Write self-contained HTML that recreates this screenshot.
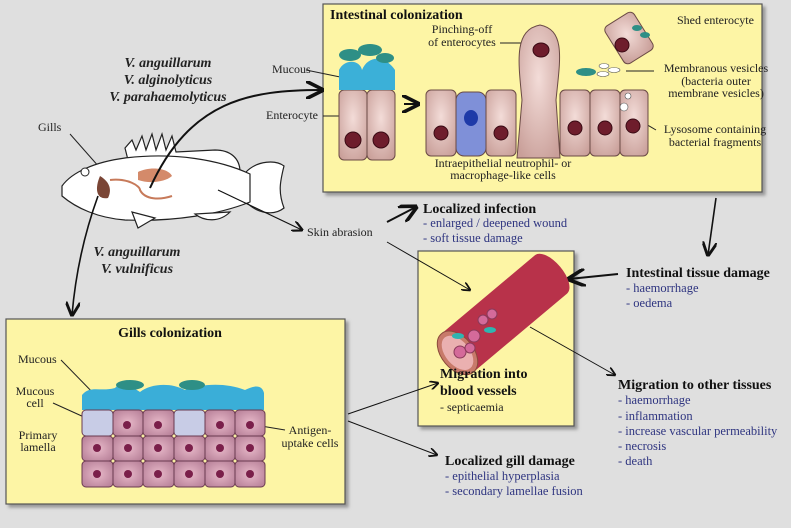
<!DOCTYPE html>
<html><head><meta charset="utf-8"><style>
html,body{margin:0;padding:0;background:#dfdfdf;}
svg{display:block;font-family:"Liberation Serif",serif;}
.t{font-weight:bold;font-size:14px;fill:#111}
.b{font-size:12.5px;fill:#2f3580}
.l{font-size:12px;fill:#222}
.sp{font-weight:bold;font-style:italic;font-size:14px;fill:#222}
</style></head><body>
<svg width="791" height="528" viewBox="0 0 791 528" xmlns="http://www.w3.org/2000/svg">
<defs>
<marker id="ah" viewBox="0 0 10 10" refX="9" refY="5" markerWidth="9" markerHeight="9" orient="auto"><path d="M0,0 L10,5 L0,10" fill="none" stroke="#111" stroke-width="2"/></marker>
<filter id="sh"><feDropShadow dx="3" dy="3" stdDeviation="1.5" flood-color="#777" flood-opacity="0.7"/></filter>
<radialGradient id="cell" cx="50%" cy="40%" r="70%"><stop offset="0" stop-color="#f3dcd8"/><stop offset="1" stop-color="#c99f99"/></radialGradient>
<radialGradient id="gc" cx="50%" cy="50%" r="70%"><stop offset="0" stop-color="#e8b9c9"/><stop offset="1" stop-color="#b27a93"/></radialGradient>
</defs>
<rect width="791" height="528" fill="#dfdfdf"/>

<!-- Boxes first -->
<rect x="323" y="4" width="439" height="188" fill="#fdf5a5" stroke="#555" stroke-width="1.2" filter="url(#sh)"/>
<rect x="418" y="251" width="156" height="175" fill="#fdf5a5" stroke="#555" stroke-width="1.2" filter="url(#sh)"/>
<rect x="6" y="319" width="339" height="185" fill="#fdf5a5" stroke="#555" stroke-width="1.2" filter="url(#sh)"/>

<!-- Intestinal -->
<text x="330" y="19" class="t">Intestinal colonization</text>
<text x="677" y="24" class="l" font-size="12.5">Shed enterocyte</text>
<text x="462" y="33" class="l" text-anchor="middle" font-size="12.5">Pinching-off</text>
<text x="462" y="46" class="l" text-anchor="middle" font-size="12.5">of enterocytes</text>
<line x1="500" y1="43" x2="522" y2="43" stroke="#222"/>
<text x="272" y="73" class="l">Mucous</text>
<line x1="306" y1="70" x2="345" y2="78" stroke="#222"/>
<text x="266" y="119" class="l">Enterocyte</text>
<line x1="323" y1="116" x2="340" y2="116" stroke="#222"/>
<text x="716" y="72" class="l" text-anchor="middle" font-size="12.5">Membranous vesicles</text>
<text x="716" y="85" class="l" text-anchor="middle" font-size="12.5">(bacteria outer</text>
<text x="716" y="97" class="l" text-anchor="middle" font-size="12.5">membrane vesicles)</text>
<line x1="626" y1="71" x2="654" y2="71" stroke="#222"/>
<text x="715" y="133" class="l" text-anchor="middle" font-size="12.5">Lysosome containing</text>
<text x="715" y="146" class="l" text-anchor="middle" font-size="12.5">bacterial fragments</text>
<line x1="622" y1="110" x2="656" y2="130" stroke="#222"/>
<text x="503" y="167" class="l" text-anchor="middle" font-size="12.5">Intraepithelial neutrophil- or</text>
<text x="503" y="179" class="l" text-anchor="middle" font-size="12.5">macrophage-like cells</text>
<line x1="471" y1="143" x2="471" y2="155" stroke="#222"/>

<g stroke="#6a4a45" stroke-width="1">
<rect x="339" y="90" width="28" height="70" rx="5" fill="url(#cell)"/>
<rect x="367" y="90" width="28" height="70" rx="5" fill="url(#cell)"/>
<rect x="426" y="90" width="30" height="66" rx="5" fill="url(#cell)"/>
<rect x="456" y="92" width="30" height="64" rx="8" fill="#7f90d8"/>
<rect x="486" y="90" width="30" height="66" rx="5" fill="url(#cell)"/>
<path d="M517,158 L522,100 C518,60 514,30 540,25 C566,30 560,60 556,100 L560,158 Z" fill="url(#cell)"/>
<rect x="560" y="90" width="30" height="66" rx="5" fill="url(#cell)"/>
<rect x="590" y="90" width="30" height="66" rx="5" fill="url(#cell)"/>
<rect x="620" y="90" width="28" height="66" rx="5" fill="url(#cell)"/>
<rect x="612" y="16" width="34" height="44" rx="5" fill="url(#cell)" transform="rotate(-32 629 38)"/>
</g>
<g fill="#6e1d2c" stroke="#3a0a14">
<ellipse cx="353" cy="140" rx="8" ry="8"/><ellipse cx="381" cy="140" rx="8" ry="8"/>
<ellipse cx="441" cy="133" rx="7" ry="7"/><ellipse cx="501" cy="133" rx="7" ry="7"/>
<ellipse cx="541" cy="50" rx="8" ry="7"/><ellipse cx="575" cy="128" rx="7" ry="7"/>
<ellipse cx="605" cy="128" rx="7" ry="7"/><ellipse cx="633" cy="126" rx="7" ry="7"/>
<ellipse cx="622" cy="45" rx="7" ry="7"/>
</g>
<ellipse cx="471" cy="118" rx="7" ry="8" fill="#1e3aa8"/>
<path d="M339,90 L339,70 C345,58 360,60 362,70 C368,55 385,55 395,70 L395,90 Z" fill="#3bb0d8"/>
<g fill="#2e8f86"><ellipse cx="350" cy="55" rx="11" ry="6"/><ellipse cx="370" cy="50" rx="12" ry="6"/><ellipse cx="385" cy="58" rx="9" ry="5"/><ellipse cx="586" cy="72" rx="10" ry="4"/></g>
<g fill="#2e8f86"><ellipse cx="637" cy="28" rx="5" ry="3"/><ellipse cx="645" cy="35" rx="5" ry="3"/></g>
<g fill="#fff" stroke="#555" stroke-width=".6"><ellipse cx="604" cy="66" rx="5" ry="2.5"/><ellipse cx="614" cy="70" rx="6" ry="2.5"/><ellipse cx="603" cy="74" rx="6" ry="2.5"/><circle cx="628" cy="96" r="3"/><circle cx="624" cy="107" r="4"/></g>
<line x1="404" y1="104" x2="418" y2="104" stroke="#111" stroke-width="2" marker-end="url(#ah)"/>

<!-- species -->
<text x="168" y="67" class="sp" text-anchor="middle">V. anguillarum</text>
<text x="168" y="84" class="sp" text-anchor="middle">V. alginolyticus</text>
<text x="168" y="101" class="sp" text-anchor="middle">V. parahaemolyticus</text>
<text x="137" y="256" class="sp" text-anchor="middle">V. anguillarum</text>
<text x="137" y="273" class="sp" text-anchor="middle">V. vulnificus</text>
<text x="38" y="131" class="l" font-size="13">Gills</text>
<line x1="70" y1="134" x2="100" y2="168" stroke="#222"/>

<!-- fish -->
<g stroke="#222" stroke-width="1.2" fill="#fff">
<path d="M128,160 L125,148 L132,140 L136,150 L142,136 L146,150 L152,134 L156,150 L162,134 L166,150 L172,136 L176,152 L215,150 C230,150 240,158 240,172 Z"/>
<path d="M246,172 C258,160 276,160 284,166 C280,182 278,192 284,208 C274,216 258,214 246,202 Z"/>
<path d="M62,186 C72,172 95,162 125,158 C175,152 220,160 250,174 L250,202 C220,214 175,222 125,220 C98,218 76,208 62,196 Z"/>
<path d="M132,212 L138,228 L155,218 Z"/>
<path d="M195,214 C205,222 220,222 230,212 Z"/>
</g>
<circle cx="85" cy="172" r="4" fill="#fff" stroke="#222"/>
<path d="M100,176 C94,190 97,200 108,198 C112,190 110,182 100,176 Z" fill="#7a4535"/>
<path d="M138,172 C150,166 168,168 172,176 C165,182 150,184 138,180 Z" fill="#d48a6a"/>
<path d="M110,180 C128,178 140,186 140,190 C145,200 160,200 172,196" fill="none" stroke="#c77a5a" stroke-width="2"/>

<!-- connectors -->
<path d="M150,188 C190,100 250,90 322,90" fill="none" stroke="#111" stroke-width="2" marker-end="url(#ah)"/>
<path d="M98,196 C82,240 75,280 72,315" fill="none" stroke="#111" stroke-width="1.6" marker-end="url(#ah)"/>
<path d="M218,190 L302,230" fill="none" stroke="#111" stroke-width="1.2" marker-end="url(#ah)"/>
<text x="307" y="236" class="l" font-size="14">Skin abrasion</text>
<path d="M387,222 L416,207" fill="none" stroke="#111" stroke-width="2" marker-end="url(#ah)"/>
<path d="M387,242 L470,290" fill="none" stroke="#111" stroke-width="1" marker-end="url(#ah)"/>
<path d="M716,198 L708,255" fill="none" stroke="#111" stroke-width="1.6" marker-end="url(#ah)"/>
<path d="M618,274 L569,279" fill="none" stroke="#111" stroke-width="2" marker-end="url(#ah)"/>
<path d="M530,327 L615,375" fill="none" stroke="#111" stroke-width="1" marker-end="url(#ah)"/>
<path d="M348,414 L438,383" fill="none" stroke="#111" stroke-width="1" marker-end="url(#ah)"/>
<path d="M348,421 L437,455" fill="none" stroke="#111" stroke-width="1" marker-end="url(#ah)"/>

<text x="423" y="213" class="t">Localized infection</text>
<text x="423" y="227" class="b">- enlarged / deepened wound</text>
<text x="423" y="242" class="b">- soft tissue damage</text>
<text x="626" y="277" class="t">Intestinal tissue damage</text>
<text x="626" y="292" class="b">- haemorrhage</text>
<text x="626" y="307" class="b">- oedema</text>
<text x="618" y="389" class="t">Migration to other tissues</text>
<text x="618" y="404" class="b">- haemorrhage</text>
<text x="618" y="420" class="b">- inflammation</text>
<text x="618" y="435" class="b">- increase vascular permeability</text>
<text x="618" y="450" class="b">- necrosis</text>
<text x="618" y="465" class="b">- death</text>
<text x="445" y="465" class="t">Localized gill damage</text>
<text x="445" y="480" class="b">- epithelial hyperplasia</text>
<text x="445" y="495" class="b">- secondary lamellae fusion</text>

<!-- blood vessel -->
<g transform="translate(505,313) rotate(-40)">
<path d="M-62,-25 L60,-25 A12,25 0 0 1 60,25 L-62,25 Z" fill="#b8324a"/>
<ellipse cx="-62" cy="0" rx="16" ry="25" fill="#c87a6a" stroke="#8a4a3a"/>
<ellipse cx="-62" cy="0" rx="12" ry="20" fill="#eab0b0"/>
</g>
<g fill="#d46a9a" stroke="#8a3a5a"><circle cx="460" cy="352" r="6"/><circle cx="474" cy="336" r="6"/><circle cx="483" cy="320" r="5"/><circle cx="470" cy="348" r="5"/><circle cx="492" cy="314" r="5"/></g>
<ellipse cx="458" cy="336" rx="6" ry="3" fill="#2fb5b0"/><ellipse cx="490" cy="330" rx="6" ry="3" fill="#2fb5b0"/>
<text x="440" y="378" class="t">Migration into</text>
<text x="440" y="395" class="t">blood vessels</text>
<text x="440" y="411" class="l" font-size="12.5">- septicaemia</text>

<!-- gills -->
<text x="170" y="337" class="t" text-anchor="middle">Gills colonization</text>
<text x="18" y="363" class="l">Mucous</text>
<line x1="61" y1="360" x2="100" y2="400" stroke="#222"/>
<text x="35" y="395" class="l" text-anchor="middle">Mucous</text>
<text x="35" y="407" class="l" text-anchor="middle">cell</text>
<line x1="53" y1="403" x2="95" y2="422" stroke="#222"/>
<text x="38" y="439" class="l" text-anchor="middle">Primary</text>
<text x="38" y="451" class="l" text-anchor="middle">lamella</text>
<text x="310" y="434" class="l" text-anchor="middle">Antigen-</text>
<text x="310" y="447" class="l" text-anchor="middle">uptake cells</text>
<line x1="255" y1="425" x2="285" y2="430" stroke="#222"/>
<path d="M82,410 L82,395 C90,385 100,392 115,388 C120,382 130,385 140,392 C150,384 170,382 185,390 C200,384 225,382 245,390 C255,385 262,385 264,393 L264,410 Z" fill="#3aaed8"/>
<g fill="#2e8f86"><ellipse cx="130" cy="385" rx="14" ry="5"/><ellipse cx="192" cy="385" rx="13" ry="5"/></g>
<g stroke="#6a3a50" stroke-width="1">
<g fill="#c8cce6"><rect x="82" y="410" width="31" height="26" rx="4"/><rect x="174" y="410" width="31" height="26" rx="4"/></g>
<g fill="url(#gc)">
<rect x="113" y="410" width="30" height="26" rx="4"/><rect x="143" y="410" width="31" height="26" rx="4"/><rect x="205" y="410" width="30" height="26" rx="4"/><rect x="235" y="410" width="30" height="26" rx="4"/>
<rect x="82" y="436" width="31" height="25" rx="4"/><rect x="113" y="436" width="30" height="25" rx="4"/><rect x="143" y="436" width="31" height="25" rx="4"/><rect x="174" y="436" width="31" height="25" rx="4"/><rect x="205" y="436" width="30" height="25" rx="4"/><rect x="235" y="436" width="30" height="25" rx="4"/>
<rect x="82" y="461" width="31" height="26" rx="4"/><rect x="113" y="461" width="30" height="26" rx="4"/><rect x="143" y="461" width="31" height="26" rx="4"/><rect x="174" y="461" width="31" height="26" rx="4"/><rect x="205" y="461" width="30" height="26" rx="4"/><rect x="235" y="461" width="30" height="26" rx="4"/>
</g></g>
<g fill="#7a1f4a">
<circle cx="127" cy="425" r="4"/><circle cx="158" cy="425" r="4"/><circle cx="220" cy="425" r="4"/><circle cx="250" cy="425" r="4"/>
<circle cx="97" cy="448" r="4"/><circle cx="128" cy="448" r="4"/><circle cx="158" cy="448" r="4"/><circle cx="189" cy="448" r="4"/><circle cx="220" cy="448" r="4"/><circle cx="250" cy="448" r="4"/>
<circle cx="97" cy="474" r="4"/><circle cx="128" cy="474" r="4"/><circle cx="158" cy="474" r="4"/><circle cx="189" cy="474" r="4"/><circle cx="220" cy="474" r="4"/><circle cx="250" cy="474" r="4"/>
</g>
</svg>
</body></html>
